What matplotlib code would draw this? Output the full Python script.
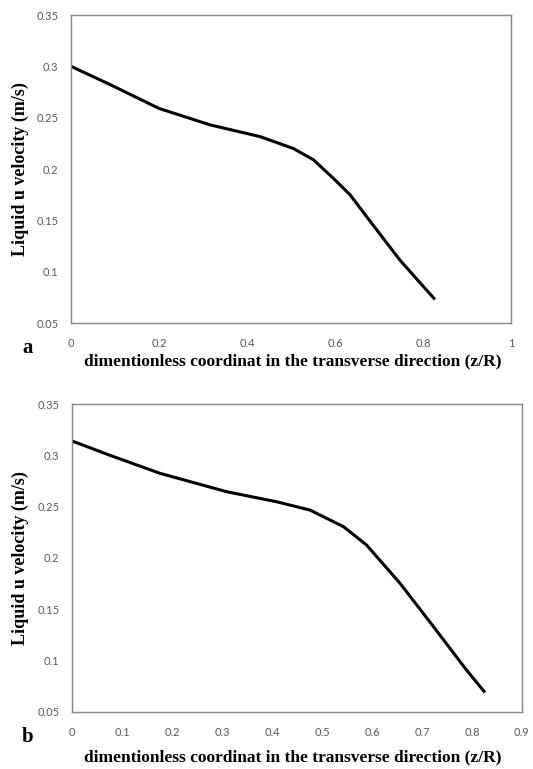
import matplotlib
matplotlib.use("Agg")
import matplotlib.pyplot as plt

# panel a
xa = [0, 0.09, 0.2, 0.316, 0.43, 0.505, 0.551, 0.596, 0.634, 0.672, 0.748, 0.827]
ua = [0.300, 0.282, 0.259, 0.243, 0.2315, 0.220, 0.209, 0.191, 0.175, 0.1535, 0.111, 0.073]
xticks_a = [0, 0.2, 0.4, 0.6, 0.8, 1]

# panel b
xb = [0, 0.076, 0.176, 0.309, 0.409, 0.476, 0.543, 0.589, 0.656, 0.723, 0.789, 0.826]
ub = [0.314, 0.300, 0.2825, 0.2646, 0.2548, 0.2467, 0.2305, 0.2127, 0.1754, 0.1331, 0.0909, 0.069]
xticks_b = [0, 0.1, 0.2, 0.3, 0.4, 0.5, 0.6, 0.7, 0.8, 0.9]

yticks = [0.05, 0.1, 0.15, 0.2, 0.25, 0.3, 0.35]

W, H = 533, 769
fig = plt.figure(figsize=(W / 100, H / 100), dpi=100)

xlabel = "dimentionless coordinat in the transverse direction (z/R)"
ylabel = "Liquid u velocity (m/s)"
serif = dict(family="Liberation Serif", weight="bold")


def panel(box, x, u, xticks, xmax, letter, xlab_y):
    left, top, right, bottom = box
    ax = fig.add_axes([left / W, 1 - bottom / H, (right - left) / W, (bottom - top) / H])
    ax.plot(x, u, color="black", lw=2.2, solid_capstyle="butt", solid_joinstyle="round")
    ax.set_xlim(0, xmax)
    ax.set_ylim(0.05, 0.35)
    ax.set_xticks(xticks)
    ax.set_xticklabels(["%g" % v for v in xticks])
    ax.set_yticks(yticks)
    ax.set_yticklabels(["%g" % v for v in yticks])
    ax.tick_params(length=0, labelsize=8, colors="#595959")
    ax.tick_params(axis="x", pad=11)
    ax.tick_params(axis="y", pad=9)
    for lab in ax.get_xticklabels() + ax.get_yticklabels():
        lab.set_family("Lato")
    for sp in ax.spines.values():
        sp.set_color("#868686")
        sp.set_linewidth(1.0)
    # axis titles and panel letter
    fig.text(20 / W, 1 - (top + bottom) / 2 / H, ylabel, rotation=90,
             fontsize=13, ha="center", va="center", **serif)
    fig.text(293 / W, 1 - xlab_y / H, xlabel, fontsize=12.5,
             ha="center", va="top", **serif)
    fig.text(22 / W, 1 - (bottom + 25) / H, letter, fontsize=15,
             ha="left", va="center", **serif)
    return ax


panel((71, 15, 511, 323), xa, ua, xticks_a, 1, "a", 353)
panel((72, 404, 522, 712), xb, ub, xticks_b, 0.9, "b", 749)

fig.savefig("out.png", dpi=100)
